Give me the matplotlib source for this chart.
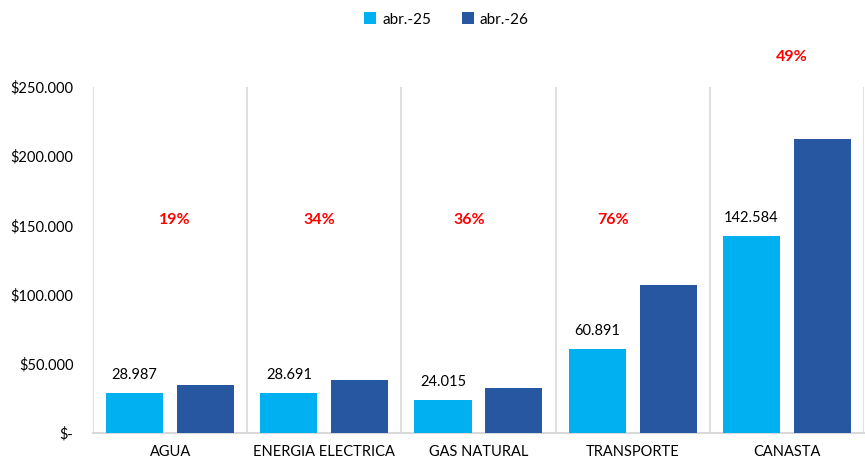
import matplotlib
matplotlib.use("Agg")
import matplotlib.pyplot as plt
import numpy as np
from matplotlib.ticker import FuncFormatter

plt.rcParams['font.family'] = ['Lato', 'DejaVu Sans']

categorias = ['AGUA', 'ENERGIA ELECTRICA', 'GAS NATURAL', 'TRANSPORTE', 'CANASTA']
abr25 = [28987, 28691, 24015, 60891, 142584]
abr26 = [34500, 38450, 32660, 107170, 212450]
variacion = ['19%', '34%', '36%', '76%', '49%']
# alturas (en $) donde van los porcentajes rojos
var_y = [153900, 153900, 153900, 153900, 271700]
var_dx = [0.03, -0.03, -0.06, -0.13, 0.03]

celeste = '#00b0f0'
azul = '#2757a0'

fig = plt.figure(figsize=(8.65, 4.63), dpi=100)
ax = fig.add_axes([0.1075, 0.0648, 0.8913, 0.7472])

x = np.arange(len(categorias))
ancho = 0.37
b1 = ax.bar(x - 0.23, abr25, ancho, color=celeste, label='abr.-25', zorder=3)
b2 = ax.bar(x + 0.23, abr26, ancho, color=azul, label='abr.-26', zorder=3)

# etiquetas de valor solo para abr.-25
for rect, v in zip(b1, abr25):
    ax.annotate(f'{v:,}'.replace(',', '.'),
                (rect.get_x() + rect.get_width() / 2, v),
                xytext=(0, 8), textcoords='offset points',
                ha='center', va='bottom', fontsize=10.5, color='#000000')

# porcentajes de variacion
for i, (t, yy, dx) in enumerate(zip(variacion, var_y, var_dx)):
    ax.text(i + dx, yy, t, ha='center', va='center', color='#ff0000',
            fontsize=11.5, fontweight='bold', clip_on=False)

# separadores entre categorias
ax.vlines(np.arange(len(categorias) + 1) - 0.5, 0, 250000,
          colors='#d9d9d9', linewidth=1.2, zorder=1)

ax.set_xlim(-0.5, len(categorias) - 0.5)
ax.set_ylim(0, 250000)
ax.set_yticks(np.arange(0, 250001, 50000))


def fmt_pesos(v, pos):
    if v == 0:
        return '$-'
    return '$' + f'{int(v):,}'.replace(',', '.')


ax.yaxis.set_major_formatter(FuncFormatter(fmt_pesos))
ax.set_xticks(x)
ax.set_xticklabels(categorias)
ax.tick_params(axis='both', length=0, labelsize=10.5, colors='#000000')
ax.tick_params(axis='y', pad=14)
ax.tick_params(axis='x', pad=9)

for s in ['top', 'right', 'left']:
    ax.spines[s].set_visible(False)
ax.spines['bottom'].set_color('#d9d9d9')
ax.spines['bottom'].set_linewidth(1.5)

fig.legend(handles=[b1, b2], loc='center', bbox_to_anchor=(0.516, 0.958),
           ncol=2, frameon=False, fontsize=11, handlelength=0.8,
           handleheight=0.8, handletextpad=0.4, columnspacing=2.0)

fig.savefig('out.png', dpi=100)
